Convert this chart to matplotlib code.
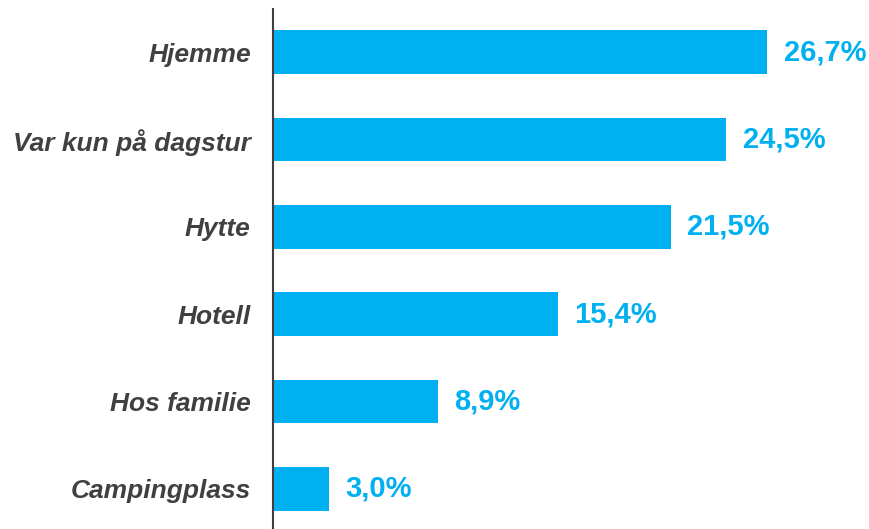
import matplotlib.pyplot as plt

kategorier = ['Hjemme', 'Var kun på dagstur', 'Hytte', 'Hotell', 'Hos familie', 'Campingplass']
andel = [26.7, 24.5, 21.5, 15.4, 8.9, 3.0]
etiketter = ['26,7%', '24,5%', '21,5%', '15,4%', '8,9%', '3,0%']

plt.rcParams['font.family'] = ['Liberation Sans', 'DejaVu Sans']

fig = plt.figure(figsize=(8.7, 5.29), dpi=100)
ax = fig.add_axes([273/870, 0, 597/870, 1 - 9/529])

pos = list(range(len(kategorier)))[::-1]
ax.barh(pos, andel, height=0.5, color='#00B0F0')

for p, v, t in zip(pos, andel, etiketter):
    ax.text(v + 0.88, p, t, va='center', ha='left', fontsize=21,
            fontweight='bold', color='#00B0F0')

ax.set_yticks(pos)
ax.set_yticklabels(kategorier, fontsize=19, fontweight='bold', style='italic', color='#404040')
ax.tick_params(axis='y', length=0, pad=16)
ax.set_xticks([])
ax.set_xlim(0, 597/18.51)
ax.set_ylim(-0.46, 5.496)

for s in ['top', 'right', 'bottom']:
    ax.spines[s].set_visible(False)
ax.spines['left'].set_color('#404040')
ax.spines['left'].set_linewidth(1.5)

fig.savefig('out.png', dpi=100)
